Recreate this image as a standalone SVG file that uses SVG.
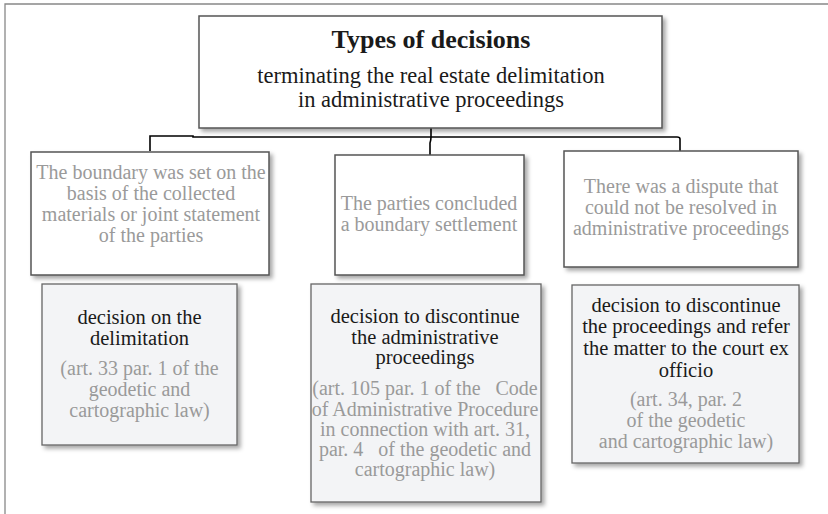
<svg xmlns="http://www.w3.org/2000/svg" width="828" height="514" viewBox="0 0 828 514" font-family="'Liberation Serif','Times New Roman',serif">
<defs>
<filter id="sh" x="-10%" y="-10%" width="125%" height="125%">
<feDropShadow dx="3" dy="3" stdDeviation="2" flood-color="#000" flood-opacity="0.35"/>
</filter>
</defs>
<style>
.box{fill:#fff;stroke:#555;stroke-width:1.5;filter:url(#sh)}
.dec{fill:#f3f4f6;stroke:#666;stroke-width:1.3;filter:url(#sh)}
.t{font-family:"Liberation Serif","Times New Roman",serif;text-anchor:middle;font-size:26px;font-weight:bold;fill:#1a1a1a}
.s{font-family:"Liberation Serif","Times New Roman",serif;text-anchor:middle;font-size:22.5px;fill:#1a1a1a}
.g{font-family:"Liberation Serif","Times New Roman",serif;text-anchor:middle;font-size:20px;fill:#9a9a9a}
.b{font-family:"Liberation Serif","Times New Roman",serif;text-anchor:middle;font-size:20.5px;fill:#1a1a1a}
.c{fill:none;stroke:#000;stroke-width:1.6}
</style>
<rect width="828" height="514" fill="#fff"/>
<path d="M5,514 V4 H828" fill="none" stroke="#888" stroke-width="1.3"/>
<g id="connectors">
<path class="c" d="M150,151 V136 H193 V137 H677 Q680,137 680,139 V151"/>
<path class="c" d="M431,128 V137 Q431,140 430,143 V155"/>
</g>
<g id="title">
<rect class="box" x="199" y="16" width="463" height="112"/>
<text class="t" x="431" y="48">Types of decisions</text>
<text class="s" x="431" y="83">terminating the real estate delimitation</text>
<text class="s" x="431" y="107">in administrative proceedings</text>
</g>
<g id="cond1">
<rect class="box" x="31" y="152" width="238" height="123"/>
<text class="g" x="151" y="179">The boundary was set on the</text>
<text class="g" x="151" y="200">basis of the collected</text>
<text class="g" x="151" y="221">materials or joint statement</text>
<text class="g" x="151" y="242">of the parties</text>
</g>
<g id="cond2">
<rect class="box" x="335" y="155" width="189" height="120"/>
<text class="g" x="429" y="210">The parties concluded</text>
<text class="g" x="429" y="231">a boundary settlement</text>
</g>
<g id="cond3">
<rect class="box" x="564" y="151" width="234" height="116"/>
<text class="g" x="681" y="193">There was a dispute that</text>
<text class="g" x="681" y="214">could not be resolved in</text>
<text class="g" x="681" y="235">administrative proceedings</text>
</g>
<g id="dec1">
<rect class="dec" x="42" y="284" width="195" height="161"/>
<text class="b" x="139.5" y="324">decision on the</text>
<text class="b" x="139.5" y="345">delimitation</text>
<text class="g" x="139.5" y="375">(art. 33 par. 1 of the</text>
<text class="g" x="139.5" y="396">geodetic and</text>
<text class="g" x="139.5" y="417">cartographic law)</text>
</g>
<g id="dec2">
<rect class="dec" x="311" y="284" width="230" height="218"/>
<text class="b" x="425" y="323">decision to discontinue</text>
<text class="b" x="425" y="344">the administrative</text>
<text class="b" x="425" y="364">proceedings</text>
<text class="g" x="425" y="395" xml:space="preserve">(art. 105 par. 1 of the   Code</text>
<text class="g" x="425" y="416">of Administrative Procedure</text>
<text class="g" x="425" y="436">in connection with art. 31,</text>
<text class="g" x="425" y="456" xml:space="preserve">par. 4   of the geodetic and</text>
<text class="g" x="425" y="476">cartographic law)</text>
</g>
<g id="dec3">
<rect class="dec" x="572" y="285" width="227" height="178"/>
<text class="b" x="686" y="312">decision to discontinue</text>
<text class="b" x="686" y="333">the proceedings and refer</text>
<text class="b" x="686" y="355">the matter to the court ex</text>
<text class="b" x="686" y="377">officio</text>
<text class="g" x="686" y="406">(art. 34, par. 2</text>
<text class="g" x="686" y="427">of the geodetic</text>
<text class="g" x="686" y="448">and cartographic law)</text>
</g>
</svg>
